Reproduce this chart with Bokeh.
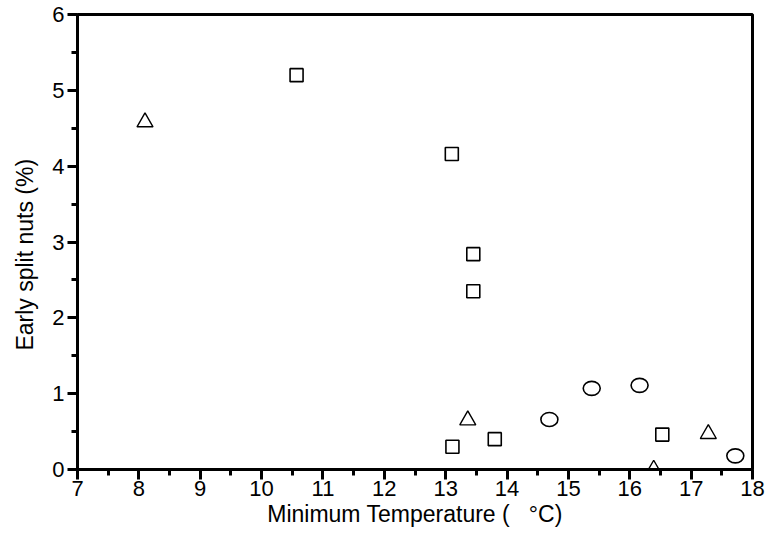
from bokeh.plotting import figure
from bokeh.models import FixedTicker, Range1d
from bokeh.embed import file_html
from bokeh.resources import INLINE

# Early split nuts (%) against minimum temperature (°C), three groups of sites
sq_temp = [10.57, 13.10, 13.45, 13.45, 13.11, 13.80, 16.53]
sq_split = [5.20, 4.16, 2.84, 2.35, 0.30, 0.40, 0.46]

tri_temp = [8.10, 13.36, 16.39, 17.28]
tri_split = [4.58, 0.65, 0.00, 0.47]

circ_temp = [14.69, 15.38, 16.16, 17.72]
circ_split = [0.66, 1.07, 1.11, 0.18]

x_ticks = list(range(7, 19))
x_minor = [t + 0.5 for t in range(7, 18)]
y_ticks = list(range(0, 7))
y_minor = [t + 0.5 for t in range(0, 6)]

FONT = "Liberation Sans"
NBSP = "\u00a0"

p = figure(width=768, height=535, output_backend="svg", toolbar_location=None,
           x_range=Range1d(7, 18), y_range=Range1d(0, 6),
           min_border_left=77, min_border_right=16,
           min_border_top=14, min_border_bottom=66)

p.xgrid.visible = False
p.ygrid.visible = False
p.outline_line_color = "black"
p.outline_line_width = 3
p.outline_line_alpha = 1.0

p.xaxis.ticker = FixedTicker(ticks=x_ticks, minor_ticks=x_minor)
p.yaxis.ticker = FixedTicker(ticks=y_ticks, minor_ticks=y_minor)

for ax in (p.xaxis[0], p.yaxis[0]):
    ax.axis_line_width = 3
    ax.axis_line_color = "black"
    ax.major_tick_line_width = 3
    ax.minor_tick_line_width = 3
    ax.major_tick_line_color = "black"
    ax.minor_tick_line_color = "black"
    ax.major_tick_out = 10
    ax.major_tick_in = 0
    ax.minor_tick_out = 6
    ax.minor_tick_in = 0
    ax.major_label_text_font = FONT
    ax.major_label_text_font_size = "22px"
    ax.major_label_text_color = "black"
    ax.axis_label_text_font = FONT
    ax.axis_label_text_font_size = "23px"
    ax.axis_label_text_font_style = "normal"
    ax.axis_label_text_color = "black"

p.xaxis.major_label_standoff = 1
p.yaxis.major_label_standoff = 3
p.xaxis.axis_label = "Minimum Temperature (" + NBSP * 3 + "°C)"
p.xaxis.axis_label_standoff = 2
# trailing blanks nudge the vertical title a little below the frame's middle
p.yaxis.axis_label = "Early split nuts (%)" + NBSP * 4
p.yaxis.axis_label_standoff = 11

p.scatter(sq_temp, sq_split, marker="square", size=13,
          fill_color=None, line_color="black", line_width=1.6)
p.scatter(tri_temp, tri_split, marker="triangle", size=16,
          fill_color=None, line_color="black", line_width=1.4)
p.ellipse(circ_temp, circ_split, width=17, height=14,
          width_units="screen", height_units="screen",
          fill_color=None, line_color="black", line_width=1.6)

open("out.html", "w").write(file_html(p, INLINE))
